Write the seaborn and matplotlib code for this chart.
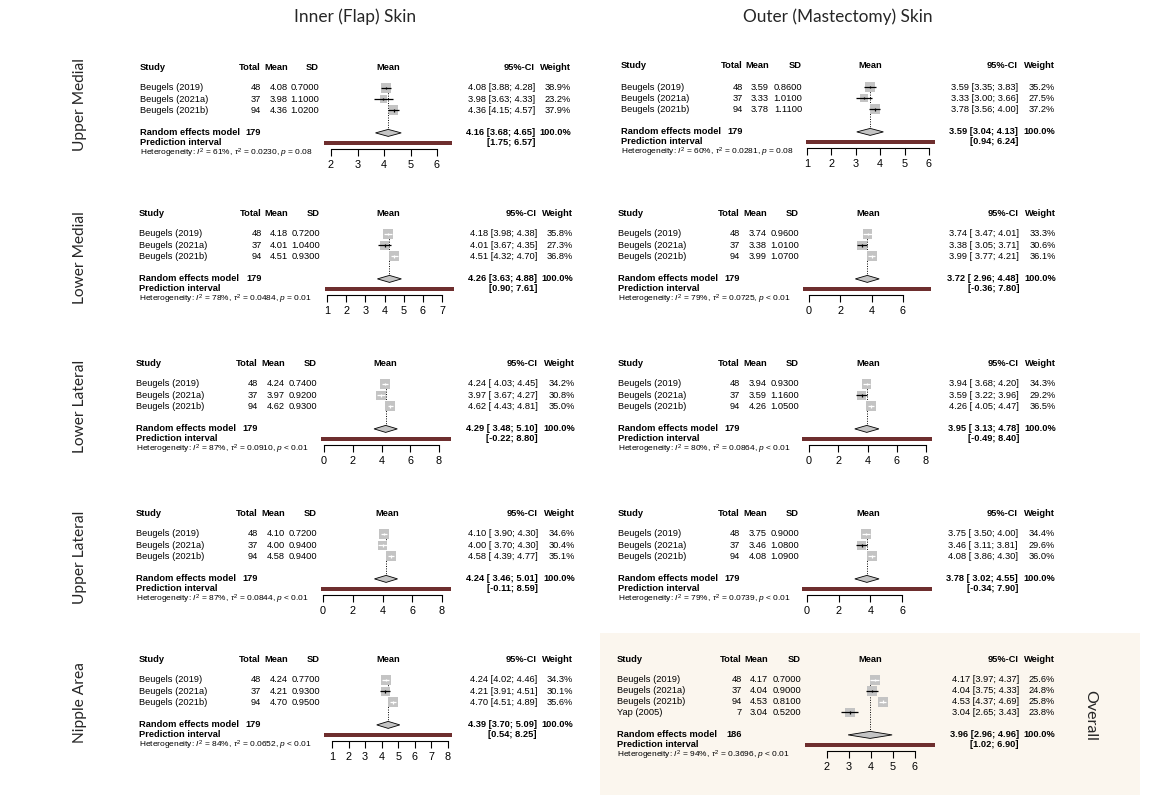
import numpy as np
import pandas as pd
import matplotlib
matplotlib.use("Agg")
import matplotlib.pyplot as plt
import seaborn as sns
from matplotlib.patches import Rectangle, Polygon

# ---------------- data ----------------
studies3 = ["Beugels (2019)", "Beugels (2021a)", "Beugels (2021b)"]
studies_overall = ["Beugels (2019)", "Beugels (2021a)", "Beugels (2021b)", "Yap (2005)"]
totals3 = [48, 37, 94]
totals_overall = [48, 37, 94, 7]

col_titles = ["Inner (Flap) Skin", "Outer (Mastectomy) Skin"]
row_titles = ["Upper Medial", "Lower Medial", "Lower Lateral", "Upper Lateral", "Nipple Area"]
overall_title = "Overall"

# Inner (Flap) skin
in_um_mean = [4.08, 3.98, 4.36]
in_um_sd = [0.70, 1.10, 1.02]
in_um_lo = [3.88, 3.63, 4.15]
in_um_hi = [4.28, 4.33, 4.57]
in_um_w = [38.9, 23.2, 37.9]
in_um_re = [4.16, 3.68, 4.65]
in_um_pi = [1.75, 6.57]
in_um_het = [61, "0.0230", "= 0.08"]
in_um_ticks = [2, 3, 4, 5, 6]

in_lm_mean = [4.18, 4.01, 4.51]
in_lm_sd = [0.72, 1.04, 0.93]
in_lm_lo = [3.98, 3.67, 4.32]
in_lm_hi = [4.38, 4.35, 4.70]
in_lm_w = [35.8, 27.3, 36.8]
in_lm_re = [4.26, 3.63, 4.88]
in_lm_pi = [0.90, 7.61]
in_lm_het = [78, "0.0484", "= 0.01"]
in_lm_ticks = [1, 2, 3, 4, 5, 6, 7]

in_ll_mean = [4.24, 3.97, 4.62]
in_ll_sd = [0.74, 0.92, 0.93]
in_ll_lo = [4.03, 3.67, 4.43]
in_ll_hi = [4.45, 4.27, 4.81]
in_ll_w = [34.2, 30.8, 35.0]
in_ll_re = [4.29, 3.48, 5.10]
in_ll_pi = [-0.22, 8.80]
in_ll_het = [87, "0.0910", "< 0.01"]
in_ll_ticks = [0, 2, 4, 6, 8]

in_ul_mean = [4.10, 4.00, 4.58]
in_ul_sd = [0.72, 0.94, 0.94]
in_ul_lo = [3.90, 3.70, 4.39]
in_ul_hi = [4.30, 4.30, 4.77]
in_ul_w = [34.6, 30.4, 35.1]
in_ul_re = [4.24, 3.46, 5.01]
in_ul_pi = [-0.11, 8.59]
in_ul_het = [87, "0.0844", "< 0.01"]
in_ul_ticks = [0, 2, 4, 6, 8]

in_na_mean = [4.24, 4.21, 4.70]
in_na_sd = [0.77, 0.93, 0.95]
in_na_lo = [4.02, 3.91, 4.51]
in_na_hi = [4.46, 4.51, 4.89]
in_na_w = [34.3, 30.1, 35.6]
in_na_re = [4.39, 3.70, 5.09]
in_na_pi = [0.54, 8.25]
in_na_het = [84, "0.0652", "< 0.01"]
in_na_ticks = [1, 2, 3, 4, 5, 6, 7, 8]

# Outer (Mastectomy) skin
out_um_mean = [3.59, 3.33, 3.78]
out_um_sd = [0.86, 1.01, 1.11]
out_um_lo = [3.35, 3.00, 3.56]
out_um_hi = [3.83, 3.66, 4.00]
out_um_w = [35.2, 27.5, 37.2]
out_um_re = [3.59, 3.04, 4.13]
out_um_pi = [0.94, 6.24]
out_um_het = [60, "0.0281", "= 0.08"]
out_um_ticks = [1, 2, 3, 4, 5, 6]

out_lm_mean = [3.74, 3.38, 3.99]
out_lm_sd = [0.96, 1.01, 1.07]
out_lm_lo = [3.47, 3.05, 3.77]
out_lm_hi = [4.01, 3.71, 4.21]
out_lm_w = [33.3, 30.6, 36.1]
out_lm_re = [3.72, 2.96, 4.48]
out_lm_pi = [-0.36, 7.80]
out_lm_het = [79, "0.0725", "< 0.01"]
out_lm_ticks = [0, 2, 4, 6]

out_ll_mean = [3.94, 3.59, 4.26]
out_ll_sd = [0.93, 1.16, 1.05]
out_ll_lo = [3.68, 3.22, 4.05]
out_ll_hi = [4.20, 3.96, 4.47]
out_ll_w = [34.3, 29.2, 36.5]
out_ll_re = [3.95, 3.13, 4.78]
out_ll_pi = [-0.49, 8.40]
out_ll_het = [80, "0.0864", "< 0.01"]
out_ll_ticks = [0, 2, 4, 6, 8]

out_ul_mean = [3.75, 3.46, 4.08]
out_ul_sd = [0.90, 1.08, 1.09]
out_ul_lo = [3.50, 3.11, 3.86]
out_ul_hi = [4.00, 3.81, 4.30]
out_ul_w = [34.4, 29.6, 36.0]
out_ul_re = [3.78, 3.02, 4.55]
out_ul_pi = [-0.34, 7.90]
out_ul_het = [79, "0.0739", "< 0.01"]
out_ul_ticks = [0, 2, 4, 6]

ov_mean = [4.17, 4.04, 4.53, 3.04]
ov_sd = [0.70, 0.90, 0.81, 0.52]
ov_lo = [3.97, 3.75, 4.37, 2.65]
ov_hi = [4.37, 4.33, 4.69, 3.43]
ov_w = [25.6, 24.8, 25.8, 23.8]
ov_re = [3.96, 2.96, 4.96]
ov_pi = [1.02, 6.90]
ov_het = [94, "0.3696", "< 0.01"]
ov_ticks = [2, 3, 4, 5, 6]

# ---------------- layout (pixel geometry) ----------------
W, H = 1167, 800
layout = {
    "in_um": dict(hy=67, sx=140, tot=261, mn=288, sd=319, p0=331, p1=437, ci=535, wt=571, mh=388, rs=11.2),
    "in_lm": dict(hy=213, sx=139, tot=262, mn=288, sd=320, p0=327, p1=442, ci=537, wt=573, mh=388, rs=11.2),
    "in_ll": dict(hy=363, sx=136, tot=258, mn=285, sd=317, p0=324, p1=439, ci=538, wt=575, mh=385, rs=11.2),
    "in_ul": dict(hy=513, sx=136, tot=258, mn=285, sd=317, p0=323, p1=442, ci=538, wt=575, mh=387, rs=11.2),
    "in_na": dict(hy=659, sx=139, tot=261, mn=288, sd=320, p0=332, p1=448, ci=537, wt=573, mh=388, rs=11.2),
    "out_um": dict(hy=66, sx=621, tot=743, mn=769, sd=802, p0=807, p1=929, ci=1018, wt=1055, mh=870, rs=11.2),
    "out_lm": dict(hy=213, sx=618, tot=740, mn=767, sd=799, p0=809, p1=903, ci=1019, wt=1056, mh=868, rs=11.2),
    "out_ll": dict(hy=363, sx=618, tot=740, mn=767, sd=799, p0=809, p1=926, ci=1019, wt=1056, mh=868, rs=11.2),
    "out_ul": dict(hy=513, sx=618, tot=740, mn=767, sd=799, p0=807, p1=902, ci=1018, wt=1055, mh=868, rs=11.2),
    "overall": dict(hy=659, sx=617, tot=742, mn=768, sd=801, p0=827, p1=915, ci=1019, wt=1055, mh=870, rs=10.8),
}

panels = {
    "in_um": (studies3, totals3, in_um_mean, in_um_sd, in_um_lo, in_um_hi, in_um_w, in_um_re, in_um_pi, in_um_het, in_um_ticks),
    "in_lm": (studies3, totals3, in_lm_mean, in_lm_sd, in_lm_lo, in_lm_hi, in_lm_w, in_lm_re, in_lm_pi, in_lm_het, in_lm_ticks),
    "in_ll": (studies3, totals3, in_ll_mean, in_ll_sd, in_ll_lo, in_ll_hi, in_ll_w, in_ll_re, in_ll_pi, in_ll_het, in_ll_ticks),
    "in_ul": (studies3, totals3, in_ul_mean, in_ul_sd, in_ul_lo, in_ul_hi, in_ul_w, in_ul_re, in_ul_pi, in_ul_het, in_ul_ticks),
    "in_na": (studies3, totals3, in_na_mean, in_na_sd, in_na_lo, in_na_hi, in_na_w, in_na_re, in_na_pi, in_na_het, in_na_ticks),
    "out_um": (studies3, totals3, out_um_mean, out_um_sd, out_um_lo, out_um_hi, out_um_w, out_um_re, out_um_pi, out_um_het, out_um_ticks),
    "out_lm": (studies3, totals3, out_lm_mean, out_lm_sd, out_lm_lo, out_lm_hi, out_lm_w, out_lm_re, out_lm_pi, out_lm_het, out_lm_ticks),
    "out_ll": (studies3, totals3, out_ll_mean, out_ll_sd, out_ll_lo, out_ll_hi, out_ll_w, out_ll_re, out_ll_pi, out_ll_het, out_ll_ticks),
    "out_ul": (studies3, totals3, out_ul_mean, out_ul_sd, out_ul_lo, out_ul_hi, out_ul_w, out_ul_re, out_ul_pi, out_ul_het, out_ul_ticks),
    "overall": (studies_overall, totals_overall, ov_mean, ov_sd, ov_lo, ov_hi, ov_w, ov_re, ov_pi, ov_het, ov_ticks),
}

# ---------------- style ----------------
sns.set_theme(style="white")
plt.rcParams['font.family'] = ['Liberation Sans', 'DejaVu Sans']
plt.rcParams['mathtext.fontset'] = 'custom'
plt.rcParams['mathtext.rm'] = 'Liberation Sans'
plt.rcParams['mathtext.it'] = 'Liberation Sans:italic'
plt.rcParams['mathtext.bf'] = 'Liberation Sans:bold'

SQ_COL = "#C4C4C4"
PI_COL = "#6E2E2E"
FS = 6.7
HET_FS = 6.0

fig = plt.figure(figsize=(W / 100, H / 100), dpi=100)
fig.patch.set_facecolor("white")

# beige highlight behind the overall panel
fig.patches.append(Rectangle((600 / W, 1 - 795 / H), 540 / W, 162 / H,
                             transform=fig.transFigure, facecolor="#FBF6EE",
                             edgecolor="none", zorder=-5))


def ftext(x, y, s, ha="left", bold=False, size=FS, **kw):
    fig.text(x / W, 1 - y / H, s, ha=ha, va="center", fontsize=size,
             fontweight="bold" if bold else "normal", color="black", **kw)


def fmt_ci(lo, hi, pad):
    if pad:
        return "[{:5.2f}; {:.2f}]".format(lo, hi)
    return "[{:.2f}; {:.2f}]".format(lo, hi)


def draw_panel(key):
    studies, totals, mean, sd, lo, hi, w, re, pi, het, ticks = panels[key]
    g = layout[key]
    n = len(mean)
    hy = g["hy"]
    rows = [hy + 21 + g["rs"] * i for i in range(n)]
    re_y = rows[-1] + 22.5
    pi_y = re_y + 10
    het_y = re_y + 20
    axis_y = re_y + 16
    lab_y = re_y + 31
    pad = min(pi[0], min(lo), re[1]) < 0

    # headers
    ftext(g["sx"], hy, "Study", bold=True)
    ftext(g["tot"], hy, "Total", ha="right", bold=True)
    ftext(g["mn"], hy, "Mean", ha="right", bold=True)
    ftext(g["sd"], hy, "SD", ha="right", bold=True)
    ftext(g["mh"], hy, "Mean", ha="center", bold=True)
    ftext(g["ci"], hy, "95%-CI", ha="right", bold=True)
    ftext(g["wt"], hy, "Weight", ha="right", bold=True)

    for i in range(n):
        y = rows[i]
        ftext(g["sx"], y, studies[i])
        ftext(g["tot"], y, str(totals[i]), ha="right")
        ftext(g["mn"], y, "{:.2f}".format(mean[i]), ha="right")
        ftext(g["sd"], y, "{:.4f}".format(sd[i]), ha="right")
        ftext(g["ci"], y, "{:.2f} ".format(mean[i]) + fmt_ci(lo[i], hi[i], pad), ha="right")
        ftext(g["wt"], y, "{:.1f}%".format(w[i]), ha="right")

    ftext(g["sx"], re_y, "Random effects model", bold=True)
    ftext(g["tot"], re_y, str(sum(totals)), ha="right", bold=True)
    ftext(g["ci"], re_y, "{:.2f} ".format(re[0]) + fmt_ci(re[1], re[2], pad), ha="right", bold=True)
    ftext(g["wt"], re_y, "100.0%", ha="right", bold=True)
    ftext(g["sx"], pi_y, "Prediction interval", bold=True)
    ftext(g["ci"], pi_y, "[{:.2f}; {:.2f}]".format(pi[0], pi[1]), ha="right", bold=True)
    ftext(g["sx"], het_y,
          r"Heterogeneity: $I^2$ = {}%, $\tau^2$ = {}, $p$ {}".format(het[0], het[1], het[2]),
          size=HET_FS)

    # forest axes
    scale = (g["p1"] - g["p0"]) / (ticks[-1] - ticks[0])
    xa, xb = g["p0"] - 40, g["p1"] + 40
    ya, yb = hy - 8, lab_y + 10
    ax = fig.add_axes([xa / W, 1 - yb / H, (xb - xa) / W, (yb - ya) / H])
    ax.set_facecolor("none")
    ax.set_xlim(ticks[0] + (xa - g["p0"]) / scale, ticks[0] + (xb - g["p0"]) / scale)
    ax.set_ylim(yb, ya)
    for s in ["top", "left", "right"]:
        ax.spines[s].set_visible(False)
    ax.spines["bottom"].set_position(("data", axis_y))
    ax.spines["bottom"].set_bounds(ticks[0], ticks[-1])
    ax.spines["bottom"].set_color("black")
    ax.spines["bottom"].set_linewidth(0.8)

    # squares
    wmax = max(w)
    sides = [10.0 * np.sqrt(wi / wmax) for wi in w]
    df = pd.DataFrame({"mean": mean, "row": rows, "s": [(sd_ * 0.72) ** 2 for sd_ in sides]})
    sns.scatterplot(data=df, x="mean", y="row", marker="s", s=df["s"].values,
                    color=SQ_COL, edgecolor="none", linewidth=0, ax=ax, legend=False, zorder=2)
    for i in range(n):
        inside = (hi[i] - lo[i]) * scale < sides[i]
        c = "white" if inside else "black"
        ax.hlines(rows[i], lo[i], hi[i], color=c, lw=0.9, zorder=3)
        ax.vlines(mean[i], rows[i] - 1.3, rows[i] + 1.3, color=c, lw=0.9, zorder=3)

    # pooled estimate line and diamond
    ax.vlines(re[0], rows[0] - 5, re_y - 3.5, color="black", lw=0.7,
              linestyles=(0, (1, 1.5)), zorder=1)
    ax.add_patch(Polygon([(re[1], re_y), (re[0], re_y - 3.5), (re[2], re_y), (re[0], re_y + 3.5)],
                         closed=True, facecolor=SQ_COL, edgecolor="black", lw=0.6, zorder=3))
    # prediction interval bar
    ax.add_patch(Rectangle((pi[0], pi_y - 2), pi[1] - pi[0], 4, facecolor=PI_COL,
                           edgecolor="none", zorder=3))

    ax.set_xticks(ticks)
    ax.set_xticklabels([str(t) for t in ticks])
    ax.set_yticks([])
    ax.set_xlabel("")
    ax.set_ylabel("")
    ax.tick_params(axis="x", bottom=True, direction="out", length=5, width=0.8,
                   color="black", labelsize=7.8, pad=3.0, labelcolor="black")
    ax.grid(False)


for k in panels:
    draw_panel(k)

# column / row titles
TF = ["Lato", "DejaVu Sans"]
fig.text(355 / W, 1 - 17 / H, col_titles[0], ha="center", va="center", fontsize=12.4, family=TF)
fig.text(838 / W, 1 - 17 / H, col_titles[1], ha="center", va="center", fontsize=12.4, family=TF)
for lab, yc in zip(row_titles, [105, 258, 406, 557, 703]):
    fig.text(80 / W, 1 - yc / H, lab, ha="center", va="center", rotation=90, fontsize=11.2, family=TF)
fig.text(1090 / W, 1 - 715 / H, overall_title, ha="center", va="center", rotation=-90,
         fontsize=11.5, family=TF)

fig.savefig("out.png", dpi=100, facecolor="white")
